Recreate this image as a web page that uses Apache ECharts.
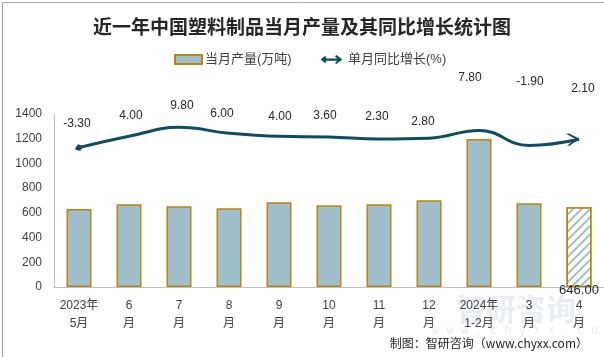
<!DOCTYPE html>
<html>
<head>
<meta charset="utf-8">
<script src="https://cdn.jsdelivr.net/npm/echarts@6/dist/echarts.min.js"></script>
<style>
html,body{margin:0;padding:0;background:#fff;}
#main{width:604px;height:357px;}
</style>
</head>
<body>
<div id="main"></div>
<script>
// ---- data ----
var categories = ['2023年\n5月','6\n月','7\n月','8\n月','9\n月','10\n月','11\n月','12\n月','2024年\n1-2月','3\n月','4\n月'];
var output = [631, 669, 653, 637, 686, 661, 669, 702, 1197, 677, 646];
var growth = [-3.30, 4.00, 9.80, 6.00, 4.00, 3.60, 2.30, 2.80, 7.80, -1.90, 2.10];
var yTicks = [0, 200, 400, 600, 800, 1000, 1200, 1400];

// ---- styles ----
var FONT = 'Liberation Sans, "Noto Sans CJK SC", sans-serif';
var BAR_COLOR = '#a0bdca';
var BAR_BORDER = '#b8860b';
var LINE_COLOR = '#0f4c62';
var TEXT_COLOR = '#404040';
// label nudges for the growth labels (pixel offsets, style only)
var labelNudge = [[-2,1],[2,0],[3,-1],[-7,1],[1,1],[-4,0],[-2,-1],[-6,5],[-9,-32],[1,-43],[10,-24]];

var chart = echarts.init(document.getElementById('main'), null, {renderer:'canvas'});

var barData = output.map(function(v, i){
  if (i === output.length - 1) {
    return {
      value: v,
      itemStyle: {
        color: '#ffffff',
        decal: {
          symbol: 'rect', symbolSize: 1,
          dashArrayX: [1, 0], dashArrayY: [2, 4],
          rotation: -Math.PI / 4,
          color: BAR_COLOR, backgroundColor: '#ffffff'
        }
      },
      label: {
        show: true, position: 'bottom', distance: -3,
        formatter: function(p){ return p.value.toFixed(2); },
        fontSize: 13, color: '#262626', fontFamily: FONT
      }
    };
  }
  return v;
});

var lineData = growth.map(function(v, i){
  var item = { value: v, symbol: 'circle', symbolSize: 1,
    itemStyle: { color: 'rgba(0,0,0,0)' },
    label: { offset: labelNudge[i] } };
  if (i === 0) {
    item.symbol = 'diamond'; item.symbolSize = [9, 7]; item.symbolRotate = 20;
    item.itemStyle = { color: LINE_COLOR };
  }
  if (i === growth.length - 1) {
    item.symbol = 'path://M0,0 L3,0 L13,6 L3,12 L0,12 L9,6 Z';
    item.symbolSize = [13, 12];
    item.symbolOffset = [-6, 0];
    item.symbolRotate = 5;
    item.symbolKeepAspect = false;
    item.itemStyle = { color: LINE_COLOR };
  }
  return item;
});

var option = {
  backgroundColor: '#ffffff',
  animation: false,
  title: {
    text: '近一年中国塑料制品当月产量及其同比增长统计图',
    left: 'center', top: 12,
    textStyle: { fontSize: 19, fontWeight: 'bold', color: '#262626', fontFamily: '"Noto Sans CJK SC", sans-serif' }
  },
  legend: {
    top: 48, left: 169,
    itemWidth: 27, itemHeight: 9, itemGap: 29,
    textStyle: { fontSize: 13, color: TEXT_COLOR, fontFamily: FONT, padding: [0,0,0,-2] },
    data: [
      { name: '当月产量(万吨)', icon: 'rect' },
      { name: '单月同比增长(%)', icon: 'path://M0,6 L6,1 L8,4.5 L22,4.5 L19,1.5 L21,0 L29,6 L21,12 L19,10.5 L22,7.5 L8,7.5 L6,11 Z' }
    ]
  },
  grid: { left: 54, right: 0, top: 114, bottom: 70, containLabel: false },
  xAxis: {
    type: 'category',
    data: categories,
    axisLine: { show: true, lineStyle: { color: '#bfbfbf', width: 1 } },
    axisTick: { show: false },
    axisLabel: { interval: 0, margin: 10, fontSize: 12, lineHeight: 18, color: TEXT_COLOR, fontFamily: FONT }
  },
  yAxis: [
    {
      type: 'value', min: yTicks[0], max: yTicks[yTicks.length-1], interval: 200,
      axisLine: { show: true, lineStyle: { color: '#bfbfbf', width: 1 } },
      axisTick: { show: false },
      splitLine: { show: false },
      axisLabel: { margin: 12, fontSize: 12, color: TEXT_COLOR, fontFamily: FONT,
        formatter: function(v){ return String(v); } }
    },
    {
      type: 'value', min: -93.2, max: 18.4, show: false,
      splitLine: { show: false }
    }
  ],
  series: [
    {
      name: '当月产量(万吨)',
      type: 'bar',
      barWidth: '50%',
      data: barData,
      itemStyle: { color: BAR_COLOR, borderColor: BAR_BORDER, borderWidth: 1.5 },
      label: { show: false },
      z: 2
    },
    {
      name: '单月同比增长(%)',
      type: 'line',
      yAxisIndex: 1,
      smooth: 0.45,
      data: lineData,
      showSymbol: true,
      lineStyle: { color: LINE_COLOR, width: 3 },
      itemStyle: { color: LINE_COLOR },
      label: {
        show: true, position: 'top', distance: 14.5,
        formatter: function(p){ return p.value.toFixed(2); },
        fontSize: 12, color: '#262626', fontFamily: FONT
      },
      z: 5
    }
  ],
  graphic: [
    { type: 'rect', left: 0, top: 0, z: 100, silent: true,
      shape: { x: 0.5, y: 0.5, width: 603, height: 356 },
      style: { fill: 'none', stroke: '#a6a6a6', lineWidth: 1 } },
    { type: 'text', z: -1, silent: true, x: 456, y: 294,
      style: { text: '智研咨询', font: 'bold 30px "Noto Sans CJK SC", sans-serif', fill: 'rgba(200,212,226,0.4)' } },
    { type: 'text', z: -1, silent: true, x: 432, y: 325,
      style: { text: 'w w w . c h y x x . c o m', font: '12px "DejaVu Sans Mono", monospace', fill: 'rgba(200,212,226,0.45)' } },
    { type: 'text', z: 50, silent: true, right: 16, top: 337,
      style: { text: '制图：智研咨询（www.chyxx.com）', font: '12px "Noto Sans CJK SC", sans-serif', fill: '#262626' } }
  ]
};

chart.setOption(option);
</script>
</body>
</html>
